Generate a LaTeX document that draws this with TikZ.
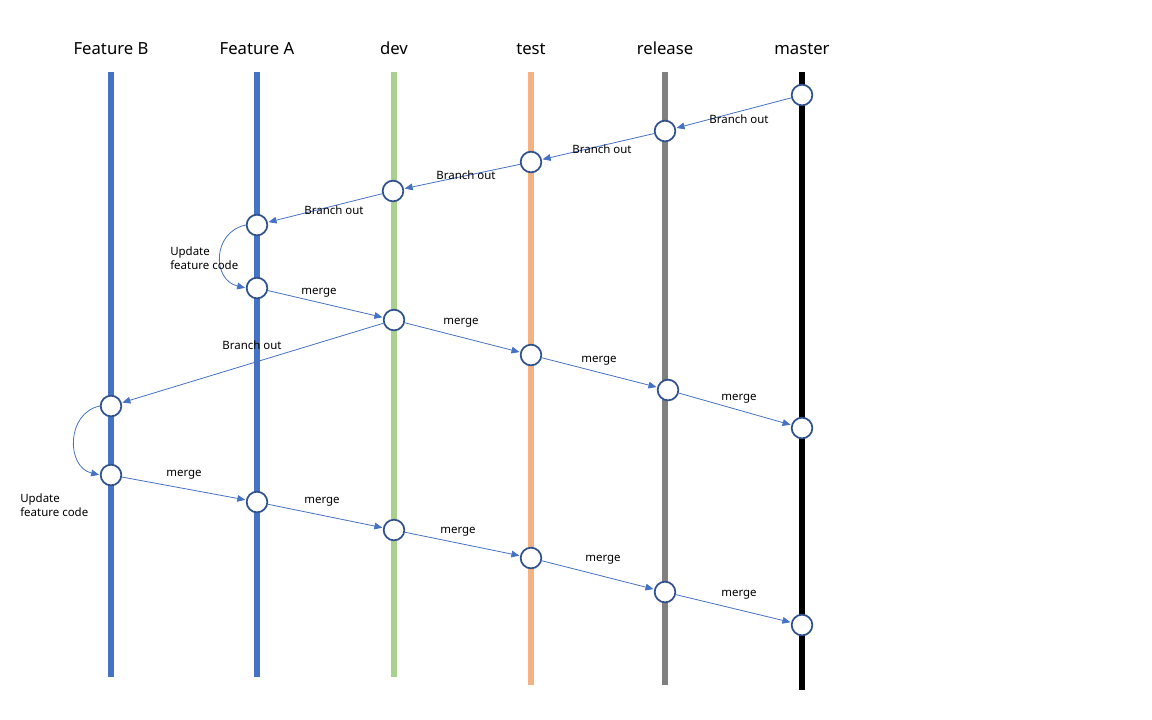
\documentclass[tikz,border=0pt]{standalone}
\usepackage{fontspec}
\setmainfont{Noto Sans}
\usetikzlibrary{arrows.meta}
\definecolor{featblue}{HTML}{4472C4}
\definecolor{devgreen}{HTML}{A9D18E}
\definecolor{testorange}{HTML}{F4B183}
\definecolor{relgray}{HTML}{808080}
\definecolor{ringblue}{HTML}{2F528F}
\tikzset{
  lane/.style={line width=3.8pt},
  head/.style={font=\fontsize{12.5}{14}\selectfont, anchor=base},
  commit/.style={circle, draw=ringblue, fill=white, line width=1.3pt, minimum size=15.5pt, inner sep=0pt},
  flow/.style={draw=featblue, line width=0.6pt, -{Triangle[length=6pt,width=5pt]}, shorten >=0.5pt},
  lbl/.style={font=\fontsize{8.6}{10}\selectfont, inner sep=0pt},
  lbl2/.style={font=\fontsize{8.6}{10.5}\selectfont, inner sep=0pt, align=left, anchor=west}
}
\begin{document}
\begin{tikzpicture}[x=0.75pt,y=-0.75pt]
\useasboundingbox (0,0) rectangle (1152,719);
% headers
\node[head] (hB) at (111,54) {Feature B};
\node[head] (hA) at (257,54) {Feature A};
\node[head] (hd) at (394,54) {dev};
\node[head] (ht) at (531,54) {test};
\node[head] (hr) at (665,54) {release};
\node[head] (hm) at (802,54) {master};
% lanes
\draw[lane, featblue] (111,72) coordinate (lB1) -- (111,677) coordinate (lB2);
\draw[lane, featblue] (257,72) coordinate (lA1) -- (257,677) coordinate (lA2);
\draw[lane, devgreen] (394,72) coordinate (ld1) -- (394,677) coordinate (ld2);
\draw[lane, testorange] (531,72) coordinate (lt1) -- (531,685) coordinate (lt2);
\draw[lane, relgray] (665,72) coordinate (lr1) -- (665,685) coordinate (lr2);
\draw[lane, black] (802,72) coordinate (lm1) -- (802,690) coordinate (lm2);
% commits
\node[commit] (m1) at (802,95) {};
\node[commit] (r1) at (665,131) {};
\node[commit] (t1) at (531,162) {};
\node[commit] (d1) at (393,191) {};
\node[commit] (a1) at (257,225) {};
\node[commit] (a2) at (257,288) {};
\node[commit] (d2) at (394,320) {};
\node[commit] (t2) at (531,355) {};
\node[commit] (r2) at (668,390) {};
\node[commit] (m2) at (802,428) {};
\node[commit] (b1) at (111,406) {};
\node[commit] (b2) at (111,475) {};
\node[commit] (a3) at (257,502) {};
\node[commit] (d3) at (394,530) {};
\node[commit] (t3) at (531,558) {};
\node[commit] (r3) at (665,592) {};
\node[commit] (m3) at (802,625) {};
% connectors
\draw[flow] (m1) -- (r1);
\draw[flow] (r1) -- (t1);
\draw[flow] (t1) -- (d1);
\draw[flow] (d1) -- (a1);
\draw[flow] (a1.west) .. controls (212,232) and (212,280) .. (a2.west);
\draw[flow] (a2) -- (d2);
\draw[flow] (d2) -- (t2);
\draw[flow] (t2) -- (r2);
\draw[flow] (r2) -- (m2);
\draw[flow] (d2) -- (b1);
\draw[flow] (b1.west) .. controls (66,413) and (66,467) .. (b2.west);
\draw[flow] (b2) -- (a3);
\draw[flow] (a3) -- (d3);
\draw[flow] (d3) -- (t3);
\draw[flow] (t3) -- (r3);
\draw[flow] (r3) -- (m3);
% labels
\node[lbl] (L1) at (739,119) {Branch out};
\node[lbl] (L2) at (602,149) {Branch out};
\node[lbl] (L3) at (466,175) {Branch out};
\node[lbl] (L4) at (334,210) {Branch out};
\node[lbl] (L5) at (252,345) {Branch out};
\node[lbl] (M1) at (319,293) {merge};
\node[lbl] (M2) at (461,323) {merge};
\node[lbl] (M3) at (599,361) {merge};
\node[lbl] (M4) at (739,399) {merge};
\node[lbl] (M5) at (184,475) {merge};
\node[lbl] (M6) at (322,502) {merge};
\node[lbl] (M7) at (458,532) {merge};
\node[lbl] (M8) at (603,560) {merge};
\node[lbl] (M9) at (739,595) {merge};
\node[lbl2] (U1) at (170,258) {Update\\feature code};
\node[lbl2] (U2) at (20,505) {Update\\feature code};
\end{tikzpicture}
\end{document}
